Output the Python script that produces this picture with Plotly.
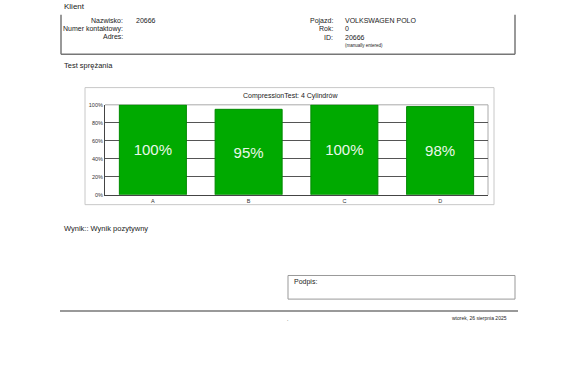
import plotly.graph_objects as go

W, H = 581, 369

cylinders = ["A", "B", "C", "D"]
compression = [100, 95, 100, 98]
bar_labels = ["100%", "95%", "100%", "98%"]
y_ticks = [0, 20, 40, 60, 80, 100]
y_tick_labels = ["0%", "20%", "40%", "60%", "80%", "100%"]

chart_title = "CompressionTest: 4 Cylindrów"

def px(x):
    return x / W

def py(y):
    return 1 - y / H

FONT = "Liberation Sans, Arial, sans-serif"

fig = go.Figure()
fig.add_trace(go.Bar(
    x=cylinders, y=compression, text=bar_labels,
    textposition="inside", insidetextanchor="middle",
    textfont=dict(size=15, color="#eaf7ea", family=FONT),
    marker=dict(color="#00aa00", line=dict(color="#008a00", width=1)),
    width=0.7, constraintext="none",
))

annotations = []
def txt(x, y, s, size=7, anchor="left", color="#222"):
    annotations.append(dict(x=px(x), y=py(y), xref="paper", yref="paper", text=s,
                            showarrow=False, xanchor=anchor, yanchor="middle",
                            font=dict(size=size, color=color, family=FONT)))

txt(62, 4, "Klient", 8)
txt(125, 18, "Nazwisko:", 7, "right")
txt(134, 18, "20666", 7)
txt(125, 26, "Numer kontaktowy:", 7, "right")
txt(125, 34, "Adres:", 7, "right")
txt(335, 18, "Pojazd:", 7, "right")
txt(343, 18, "VOLKSWAGEN POLO", 7)
txt(335, 26, "Rok:", 7, "right")
txt(343, 26, "0", 7)
txt(335, 35, "ID:", 7, "right")
txt(343, 35, "20666", 7)
txt(343, 43, "(manually entered)", 4.5)
txt(62, 64, "Test sprężania", 7.5)
txt(290, 95, chart_title, 7, "center")
txt(62, 229, "Wynik:: Wynik pozytywny", 7.5)
txt(292, 284, "Podpis:", 7)
txt(287, 321, ".", 5, "center")
txt(509, 320, "wtorek, 26 sierpnia 2025", 5, "right")

shapes = []
def rect(x0, y0, x1, y1, color, width=1):
    shapes.append(dict(type="rect", xref="paper", yref="paper", x0=px(x0), x1=px(x1),
                       y0=py(y0), y1=py(y1), line=dict(color=color, width=width),
                       fillcolor="rgba(0,0,0,0)", layer="below"))

def line(x0, y0, x1, y1, color, width=1, layer="above"):
    shapes.append(dict(type="line", xref="paper", yref="paper", x0=px(x0), x1=px(x1),
                       y0=py(y0), y1=py(y1), line=dict(color=color, width=width), layer=layer))

line(61, 12, 61, 52, "#777", 1.5)
line(515, 12, 515, 52, "#777", 1.5)
line(61, 52, 515, 52, "#777", 1.5)
rect(85, 86, 494, 205, "#c8c8c8", 1)
rect(288, 277, 515, 301, "#999", 1)
line(60, 313, 518, 313, "#999", 2)
# plot frame right/top
line(488, 103.5, 488, 195, "#aaa", 1, "below")
line(105, 103.5, 488, 103.5, "#aaa", 1, "below")

fig.update_layout(
    width=W, height=H, margin=dict(l=0, r=0, t=0, b=0),
    paper_bgcolor="white", plot_bgcolor="white",
    showlegend=False, bargap=0.3,
    annotations=annotations, shapes=shapes,
    font=dict(family=FONT),
    xaxis=dict(domain=[px(105), px(488)], showgrid=False, showline=True,
               linecolor="#444", linewidth=1, ticks="",
               tickfont=dict(size=5.5, color="#333"), ticklabelstandoff=1),
    yaxis=dict(domain=[py(195), py(103.5)], range=[0, 100], tickvals=y_ticks,
               ticktext=y_tick_labels, showgrid=True, gridcolor="#555", gridwidth=1,
               showline=True, linecolor="#444", linewidth=1, zeroline=False,
               ticks="", tickfont=dict(size=5.5, color="#333")),
)

fig.write_html("out.html")
